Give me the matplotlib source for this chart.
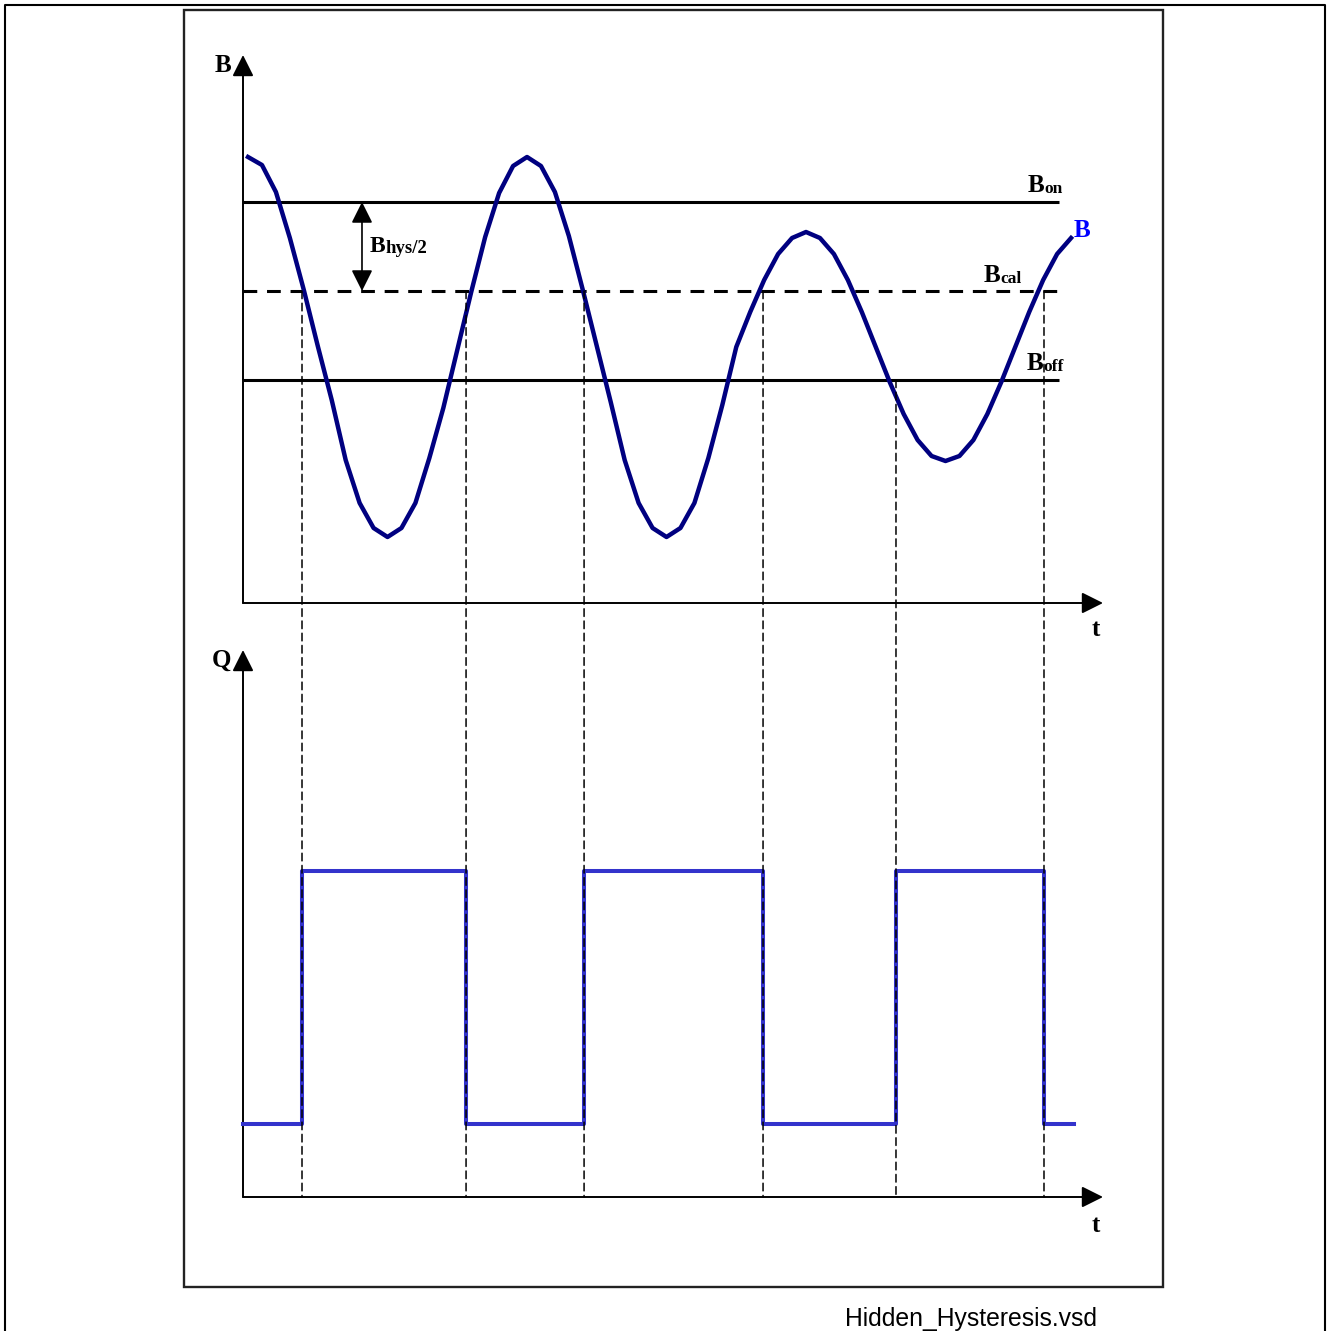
import numpy as np
import matplotlib as mpl
mpl.use('Agg')
import matplotlib.pyplot as plt
from matplotlib.patches import Rectangle, ConnectionPatch

# sampled field B (one sample per time unit)
t_b = np.arange(60)
b_vals = [44.6, 43.8, 41.1, 36.5, 31.3, 25.7, 20.3, 14.3, 10.0, 7.5,
          6.6, 7.5, 10.0, 14.5, 19.5, 25.3, 31.1, 36.6, 41.0, 43.7,
          44.6, 43.7, 41.1, 36.7, 31.3, 25.7, 20.1, 14.3, 10.0, 7.5,
          6.6, 7.5, 10.0, 14.5, 19.8, 25.6, 29.1, 32.3, 34.9, 36.5,
          37.1, 36.5, 34.9, 32.3, 29.1, 25.6, 22.1, 18.9, 16.3, 14.7,
          14.2, 14.7, 16.3, 18.9, 22.1, 25.6, 29.1, 32.3, 34.9, 36.5]

# thresholds
B_ON = 40.1
B_CAL = 31.2
B_OFF = 22.3

# switching of output Q
switch_t = [3.87, 15.63, 24.09, 36.92, 46.45, 57.06]
switch_level = [B_CAL, B_CAL, B_CAL, B_CAL, B_OFF, B_CAL]
q_t = [-0.36, 3.87, 15.63, 24.09, 36.92, 46.45, 57.06, 59.2]
q_v = [0, 1, 0, 1, 0, 1, 0, 0]

T0 = -0.36
T_TIP = 61.29
T_LINE_END = 58.1
B_TOP = 54.8
Q_BOT = -0.289
Q_TOP = 1.874

SERIF = 'Liberation Serif'

fig = plt.figure(figsize=(13.31, 13.31), dpi=100)

# frames + footer
bg = fig.add_axes([0, 0, 1, 1])
bg.set_xlim(0, 1331)
bg.set_ylim(1331, 0)
bg.axis('off')
bg.plot([5, 5, 1325, 1325], [1331, 5, 5, 1331], color='k', lw=1.5)
bg.add_patch(Rectangle((184, 10), 979, 1277, fill=False, lw=1.7, ec='#222222'))
bg.text(845, 1326, 'Hidden_Hysteresis.vsd', fontfamily='Liberation Sans',
        fontsize=17.8, va='baseline', ha='left')

arrow = dict(arrowstyle='-|>,head_length=1.0,head_width=0.5', mutation_scale=13,
             lw=1.4, color='k', shrinkA=0, shrinkB=0)

# upper plot: B(t)
ax1 = fig.add_axes([243/1331, 1 - 603/1331, 860/1331, 548/1331])
ax1.set_xlim(T0, T_TIP)
ax1.set_ylim(0, B_TOP)
ax1.axis('off')
ax1.annotate('', xy=(T0, B_TOP), xytext=(T0, 0), arrowprops=arrow, annotation_clip=False)
ax1.annotate('', xy=(T_TIP, 0), xytext=(T0, 0), arrowprops=arrow, annotation_clip=False)

ax1.hlines([B_ON, B_OFF], T0, T_LINE_END, color='k', lw=2.2, clip_on=False)
ax1.hlines(B_CAL, T0, T_LINE_END, color='k', lw=2.2, linestyles=(0, (4.5, 3.2)), clip_on=False)

ax1.plot(t_b, b_vals, color='#000080', lw=3.2, clip_on=False, zorder=3)

# hysteresis arrow
ax1.annotate('', xy=(8.17, B_ON), xytext=(8.17, B_CAL),
             arrowprops=dict(arrowstyle='<|-|>,head_length=1.0,head_width=0.5',
                             mutation_scale=13, lw=1.2, color='k', shrinkA=0, shrinkB=0))


def label(ax, x, y, main, sub, color='k', size=18, subsize=12.5):
    tb = ax.text(x, y, main, fontfamily=SERIF, fontweight='bold', fontsize=size,
                 color=color, va='baseline', ha='left')
    if sub:
        ax.annotate(sub, xy=(1, 0), xycoords=tb, fontfamily=SERIF, fontweight='bold',
                    fontsize=subsize, color=color, va='bottom', ha='left')
    return tb


label(ax1, 8.75, 35.1, 'B', 'hys/2', size=17, subsize=13.5)
label(ax1, 55.9, 41.1, 'B', 'on')
label(ax1, 52.7, 32.1, 'B', 'cal')
label(ax1, 55.8, 23.3, 'B', 'off')
label(ax1, 59.2, 36.6, 'B', None, color='#0000ff')

ax1.text(-1.2, 53.7, 'B', fontfamily=SERIF, fontweight='bold', fontsize=18,
         ha='right', va='center')
ax1.text(60.8, -2.7, 't', fontfamily=SERIF, fontweight='bold', fontsize=18,
         ha='center', va='center')

# lower plot: Q(t)
ax2 = fig.add_axes([243/1331, 1 - 1197/1331, 860/1331, 547/1331])
ax2.set_xlim(T0, T_TIP)
ax2.set_ylim(Q_BOT, Q_TOP)
ax2.axis('off')
ax2.annotate('', xy=(T0, Q_TOP), xytext=(T0, Q_BOT), arrowprops=arrow, annotation_clip=False)
ax2.annotate('', xy=(T_TIP, Q_BOT), xytext=(T0, Q_BOT), arrowprops=arrow, annotation_clip=False)
ax2.step(q_t, q_v, where='post', color='#3333cc', lw=2.9, clip_on=False, zorder=3)

ax2.text(-1.2, 1.834, 'Q', fontfamily=SERIF, fontweight='bold', fontsize=18,
         ha='right', va='center')
ax2.text(60.8, -0.403, 't', fontfamily=SERIF, fontweight='bold', fontsize=18,
         ha='center', va='center')

# dashed guides from the switching points down to the Q axis
for ts, lev in zip(switch_t, switch_level):
    con = ConnectionPatch(xyA=(ts, lev), coordsA=ax1.transData,
                          xyB=(ts, Q_BOT), coordsB=ax2.transData,
                          color='k', lw=1.1, linestyle=(0, (5, 3)), zorder=2)
    fig.add_artist(con)

fig.savefig('out.png', dpi=100)
